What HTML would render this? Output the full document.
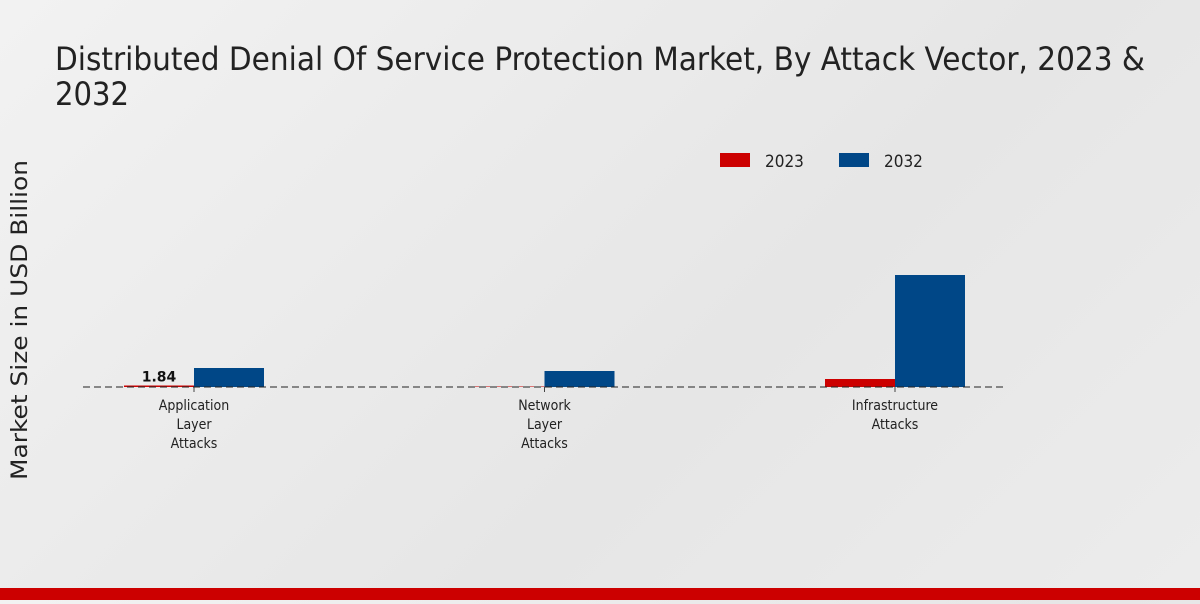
<!DOCTYPE html>
<html><head><meta charset="utf-8"><style>
body{margin:0;width:1200px;height:600px;overflow:hidden;background:linear-gradient(135deg,#f2f2f2 0%,#e6e6e6 60%,#ececec 100%);font-family:"DejaVu Sans","Liberation Sans",sans-serif;}
</style></head><body>
<svg width="1200" height="600">
<text x="55" y="70" font-size="32" textLength="1090" lengthAdjust="spacingAndGlyphs" fill="#222" font-family="DejaVu Sans Condensed, DejaVu Sans, sans-serif">Distributed Denial Of Service Protection Market, By Attack Vector, 2023 &amp;</text>
<text x="55" y="105" font-size="32" textLength="74" lengthAdjust="spacingAndGlyphs" fill="#222" font-family="DejaVu Sans Condensed, DejaVu Sans, sans-serif">2032</text>
<text transform="translate(27,320) rotate(-90)" text-anchor="middle" font-size="22" textLength="320" lengthAdjust="spacingAndGlyphs" fill="#222">Market Size in USD Billion</text>
<g>
<rect x="720" y="153" width="30" height="14" fill="#cc0000"/>
<text x="765" y="167" font-size="17" fill="#222" font-family="DejaVu Sans Condensed, DejaVu Sans, sans-serif">2023</text>
<rect x="839" y="153" width="30" height="14" fill="#004787"/>
<text x="884" y="167" font-size="17" fill="#222" font-family="DejaVu Sans Condensed, DejaVu Sans, sans-serif">2032</text>
</g>
<g id="plot"></g>
<rect x="0" y="588" width="1200" height="12" fill="#cc0000"/>
</svg>
<script>
const categories=[["Application","Layer","Attacks"],["Network","Layer","Attacks"],["Infrastructure","Attacks"]];
const values2023=[0.3,0.1,1.6];
const values2032=[3.8,3.2,22.4];
const labels2023=["1.84","",""];
const baseY=387, pxPerUnit=5, x0=194, step=350.5, bw=70;
const y=v=>baseY-v*pxPerUnit;
const cx=i=>x0+i*step;
const g=document.getElementById('plot');
const NS='http://www.w3.org/2000/svg';
function mk(t,a){const e=document.createElementNS(NS,t);for(const k in a)e.setAttribute(k,a[k]);g.appendChild(e);return e;}
categories.forEach((c,i)=>{
 const r1=mk('rect',{x:cx(i)-bw,y:y(values2023[i]),width:bw,height:baseY-y(values2023[i]),fill:'#cc0000'});
 
 
 const r2=mk('rect',{x:cx(i),y:y(values2032[i]),width:bw,height:baseY-y(values2032[i]),fill:'#004787'});
 
 
 if(labels2023[i]){const t=mk('text',{x:cx(i)-bw/2,y:y(values2023[i])-4,'text-anchor':'middle','font-size':14,'font-weight':'bold',fill:'#111'});t.textContent=labels2023[i];
 
 }
 const tk=mk('line',{x1:cx(i),x2:cx(i),y1:baseY,y2:baseY+5,stroke:'#444'});
 
 
 c.forEach((w,j)=>{const t=mk('text',{x:cx(i),y:410+j*19,'text-anchor':'middle','font-size':14,fill:'#222','font-family':'DejaVu Sans Condensed, DejaVu Sans, sans-serif'});t.textContent=w;
 
 });
});
const bl=mk('line',{x1:83,x2:1007,y1:baseY,y2:baseY,stroke:'#222','stroke-dasharray':'7,4'});


</script>
</body></html>
